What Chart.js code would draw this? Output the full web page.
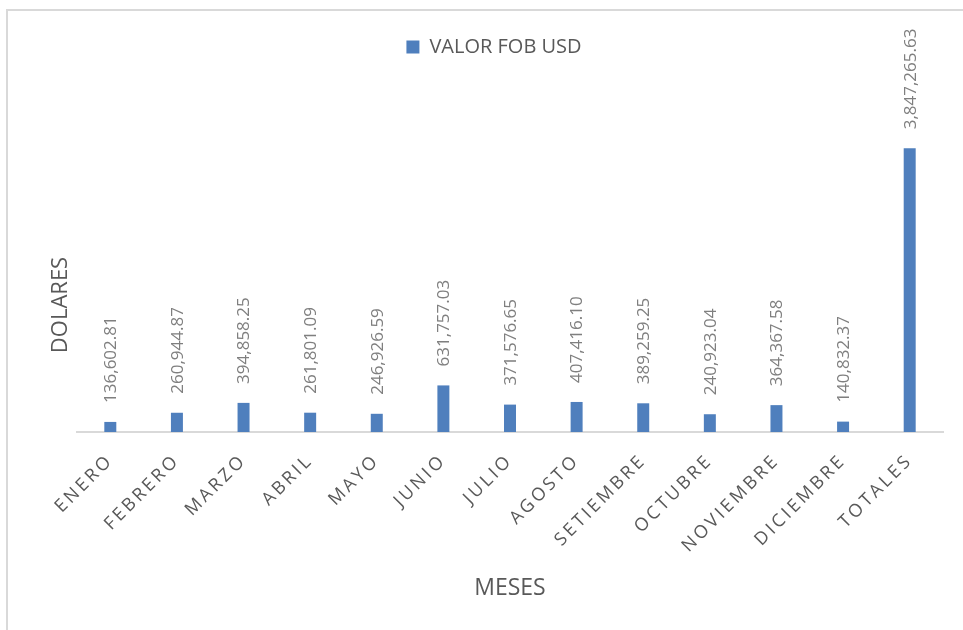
<!DOCTYPE html>
<html>
<head>
<meta charset="utf-8">
<script src="https://cdn.jsdelivr.net/npm/chart.js@4/dist/chart.umd.min.js"></script>
<style>
  html, body { margin: 0; padding: 0; background: #ffffff; overflow: hidden; }
  #wrap { position: relative; width: 963px; height: 630px; }
  #frame { position: absolute; left: 6px; top: 9px; width: 1000px; height: 700px; border: 2px solid #d9d9d9; box-sizing: border-box; }
  canvas { position: absolute; left: 0; top: 0; }
</style>
</head>
<body>
<div id="wrap">
  <div id="frame"></div>
  <canvas id="c" width="963" height="630"></canvas>
</div>
<script>
const categories = ["ENERO","FEBRERO","MARZO","ABRIL","MAYO","JUNIO","JULIO","AGOSTO","SETIEMBRE","OCTUBRE","NOVIEMBRE","DICIEMBRE","TOTALES"];
const valorFobUsd = [136602.81, 260944.87, 394858.25, 261801.09, 246926.59, 631757.03, 371576.65, 407416.10, 389259.25, 240923.04, 364367.58, 140832.37, 3847265.63];
const seriesName = "VALOR FOB USD";
const xTitle = "MESES";
const yTitle = "DOLARES";

const FONT = "'Open Sans', 'Liberation Sans', sans-serif";
const fmt = new Intl.NumberFormat('en-US', { minimumFractionDigits: 2, maximumFractionDigits: 2 });

const valueLabels = {
  id: 'valueLabels',
  afterDatasetsDraw(chart) {
    const ctx = chart.ctx;
    const meta = chart.getDatasetMeta(0);
    const data = chart.data.datasets[0].data;
    ctx.save();
    ctx.font = "17px " + FONT;
    ctx.fillStyle = '#7f7f7f';
    ctx.textAlign = 'left';
    ctx.textBaseline = 'middle';
    meta.data.forEach((bar, i) => {
      ctx.save();
      ctx.translate(bar.x + 1, bar.y - 19);
      ctx.rotate(-Math.PI / 2);
      ctx.fillText(fmt.format(data[i]), 0, 0);
      ctx.restore();
    });
    ctx.restore();
  }
};

const yAxisTitle = {
  id: 'yAxisTitle',
  afterDraw(chart) {
    const ctx = chart.ctx;
    const ys = chart.scales.y;
    ctx.save();
    ctx.font = "22px " + FONT;
    ctx.fillStyle = '#595959';
    ctx.textAlign = 'center';
    ctx.textBaseline = 'middle';
    ctx.translate(ys.left + 16, 305);
    ctx.rotate(-Math.PI / 2);
    ctx.fillText(yTitle, 0, 0);
    ctx.restore();
  }
};

const spacedTicks = {
  id: 'spacedTicks',
  afterUpdate(chart) {
    const xs = chart.scales.x;
    if (xs && !xs._spacedPatched) {
      const orig = xs.drawLabels.bind(xs);
      xs.drawLabels = function (area) {
        const ctx = chart.ctx;
        ctx.save();
        ctx.letterSpacing = '3px';
        orig(area);
        ctx.restore();
      };
      xs._spacedPatched = true;
    }
  }
};

new Chart(document.getElementById('c'), {
  type: 'bar',
  data: {
    labels: categories,
    datasets: [{
      label: seriesName,
      data: valorFobUsd,
      backgroundColor: '#4f7fbd',
      borderWidth: 0,
      barPercentage: 1.0,
      categoryPercentage: 0.18
    }]
  },
  options: {
    responsive: false,
    animation: false,
    devicePixelRatio: 1,
    layout: { padding: { top: 31, left: 45, right: 20, bottom: 0 } },
    plugins: {
      legend: {
        display: true,
        position: 'top',
        labels: {
          boxWidth: 13, boxHeight: 13, padding: 6,
          color: '#595959',
          font: { family: FONT, size: 20 }
        }
      },
      tooltip: { enabled: false }
    },
    scales: {
      x: {
        grid: { display: false, drawTicks: false },
        border: { display: true, color: '#d9d9d9', width: 2 },
        ticks: {
          color: '#595959',
          font: { family: FONT, size: 18 },
          minRotation: 45, maxRotation: 45,
          padding: 18,
          autoSkip: false
        },
        title: {
          display: true, text: xTitle, color: '#595959',
          font: { family: FONT, size: 23 },
          padding: { top: 0, bottom: 28 }
        },
        afterFit(scale) { scale.height = 198; }
      },
      y: {
        min: 0, max: 4950000,
        grid: { display: false, drawTicks: false },
        border: { display: false },
        ticks: { display: false },
        title: { display: false },
        afterFit(scale) { scale.width = 32; }
      }
    }
  },
  plugins: [valueLabels, yAxisTitle, spacedTicks]
});
</script>
</body>
</html>
